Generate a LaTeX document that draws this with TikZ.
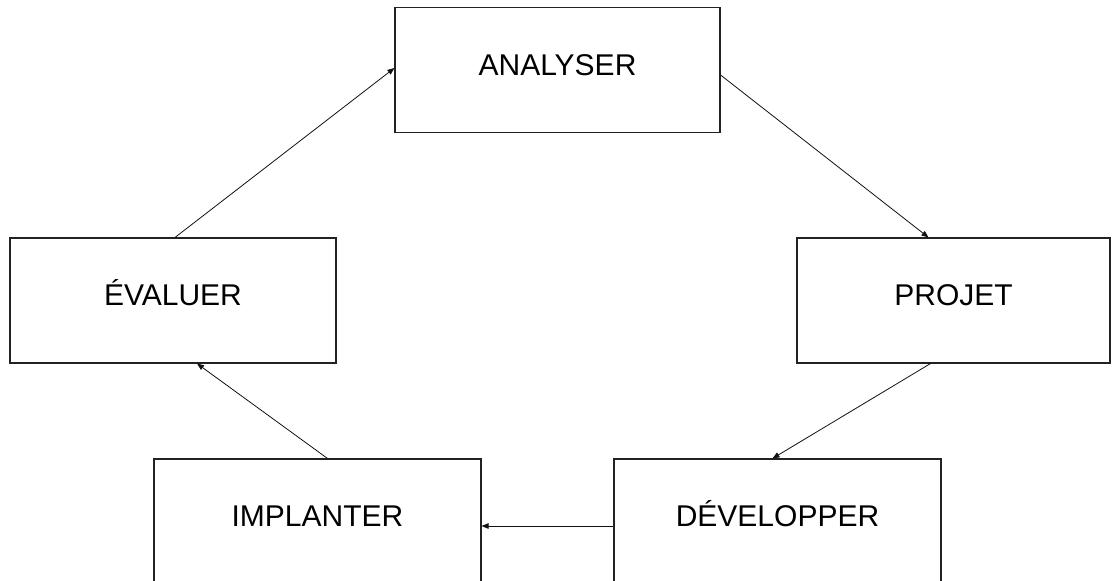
\documentclass[tikz,border=0pt]{standalone}
\usepackage{fontspec}
\setmainfont{Liberation Sans}
\usetikzlibrary{arrows.meta, positioning, calc}
\definecolor{boxline}{HTML}{222222}
\definecolor{arrline}{HTML}{111111}

\begin{document}
\begin{tikzpicture}[
    x=1pt, y=-1pt,
    stage/.style={
        draw=boxline, fill=white, line width=1.1pt,
        minimum width=325pt, minimum height=125pt,
        font=\fontsize{30}{32}\selectfont,
        text height=21pt, text depth=11pt, inner sep=0pt
    },
    flow/.style={-{Triangle[length=7pt, width=5.5pt]}, line width=0.8pt, color=arrline}
]

% --- Frame ---
\useasboundingbox (0,0) rectangle (1112,581);

% --- Stage boxes ---
\node[stage] (analyser) at (557.5, 70) {ANALYSER};
\node[stage, minimum width=326pt] (evaluer) at (173, 300.5) {ÉVALUER};
\node[stage, minimum width=313pt] (projet) at (953.5, 300.5) {PROJET};
\node[stage, minimum width=327pt, minimum height=124pt] (implanter) at (317.5, 521) {IMPLANTER};
\node[stage, minimum width=327pt, minimum height=124pt] (developper) at (777.5, 521) {DÉVELOPPER};

% --- Cycle arrows ---
\draw[flow] ([xshift=2pt]evaluer.north) -- ([yshift=2pt]analyser.west);
\draw[flow] ([yshift=-5pt]analyser.east) -- ([xshift=-25pt]projet.north);
\draw[flow] ([xshift=-23pt]projet.south) -- ([xshift=-5pt]developper.north);
\draw[flow] ([yshift=-5pt]developper.west) -- ([yshift=-5pt]implanter.east);
\draw[flow] ([xshift=10pt]implanter.north) -- ([xshift=24pt]evaluer.south);

\end{tikzpicture}
\end{document}
